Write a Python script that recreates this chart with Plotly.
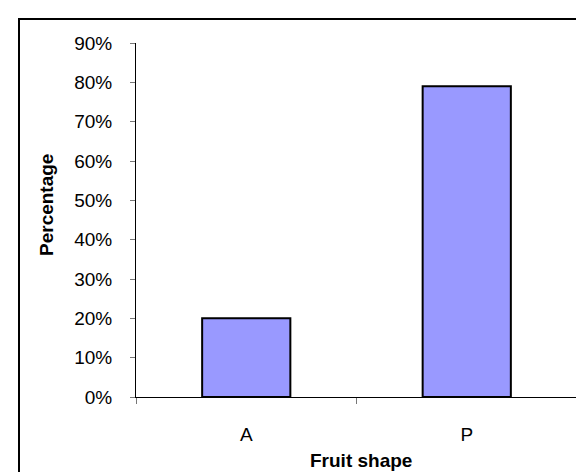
import plotly.graph_objects as go

categories = ["A", "P"]
percentages = [0.20, 0.79]
x_title = "Fruit shape"
y_title = "Percentage"

W, H = 584, 472
L, R, T, B = 128, 15, 35, 83
pw, ph = W - L - R, H - T - B

def px_x(v):
    return (v - L) / pw

def px_y(v):
    return (H - B - v) / ph

font_family = "Liberation Sans, Arial, sans-serif"

fig = go.Figure(
    go.Bar(
        x=categories,
        y=percentages,
        marker=dict(color="#9999FF", line=dict(color="black", width=2)),
        hoverinfo="skip",
    )
)

fig.update_layout(
    width=W,
    height=H,
    margin=dict(l=L, r=R, t=T, b=B, pad=0),
    paper_bgcolor="white",
    plot_bgcolor="white",
    bargap=0.6,
    showlegend=False,
    font=dict(family=font_family, size=19, color="black"),
    xaxis=dict(
        type="category",
        showline=True,
        linecolor="black",
        linewidth=1,
        ticks="outside",
        tickson="boundaries",
        ticklen=6,
        tickcolor="#777777",
        tickwidth=1,
        showgrid=False,
        zeroline=False,
        ticklabelstandoff=20,
        tickfont=dict(size=19),
    ),
    yaxis=dict(
        range=[0, 0.9],
        tickvals=[i / 10 for i in range(10)],
        tickformat=".0%",
        showline=True,
        linecolor="black",
        linewidth=1,
        ticks="outside",
        ticklen=5,
        tickcolor="#777777",
        tickwidth=1,
        showgrid=False,
        zeroline=False,
        ticklabelstandoff=14,
        tickfont=dict(size=19),
    ),
    annotations=[
        dict(
            text="<b>%s</b>" % x_title,
            xref="paper", yref="paper",
            x=px_x(353), y=px_y(452),
            xanchor="center", yanchor="middle",
            showarrow=False,
            font=dict(size=19),
        ),
        dict(
            text="<b>%s</b>" % y_title,
            xref="paper", yref="paper",
            x=px_x(38), y=px_y(197),
            xanchor="center", yanchor="middle",
            textangle=-90,
            showarrow=False,
            font=dict(size=19),
        ),
    ],
    shapes=[
        dict(
            type="line", xref="paper", yref="paper",
            x0=px_x(10), x1=px_x(600), y0=px_y(11), y1=px_y(11),
            line=dict(color="black", width=2),
        ),
        dict(
            type="line", xref="paper", yref="paper",
            x0=px_x(11), x1=px_x(11), y0=px_y(10), y1=px_y(500),
            line=dict(color="black", width=2),
        ),
    ],
)

fig.write_html("out.html")
